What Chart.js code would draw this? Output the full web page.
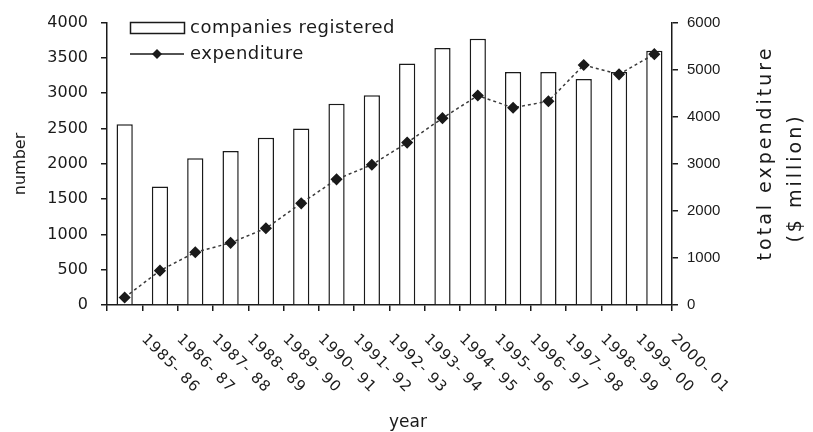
<!DOCTYPE html>
<html>
<head>
<meta charset="utf-8">
<script src="https://cdn.jsdelivr.net/npm/chart.js@4.4.0/dist/chart.umd.min.js"></script>
<style>
html, body { margin: 0; padding: 0; background: #fff; }
#wrap { width: 813px; height: 432px; }
</style>
</head>
<body>
<div id="wrap"><canvas id="chart" width="813" height="432"></canvas></div>
<script>

var years = ["1985- 86", "1986- 87", "1987- 88", "1988- 89", "1989- 90", "1990- 91", "1991- 92", "1992- 93",
	"1993- 94", "1994- 95", "1995- 96", "1996- 97", "1997- 98", "1998- 99", "1999- 00", "2000- 01"];
var companies = [2560, 1680, 2080, 2180, 2370, 2500, 2850, 2970, 3420, 3640, 3770, 3300, 3300, 3200, 3300, 3600];
var expenditure = [160, 730, 1120, 1320, 1630, 2160, 2670, 2980, 3450, 3970, 4450, 4190, 4330, 5100, 4900, 5330];
var leftMax = 4000, leftStep = 500;
var rightMax = 6000, rightStep = 1000;

var INK = "#1a1a1a";

// titles, legend and slanted year labels drawn by hand
var extrasPlugin = {
	id: "extras",
	afterDraw: function (chart) {
		var ctx = chart.ctx;
		var xs = chart.scales.x;
		ctx.save();
		ctx.fillStyle = INK;
		ctx.strokeStyle = INK;

		// year labels going down to the right
		ctx.font = "15px 'DejaVu Sans'";
		ctx.letterSpacing = "1px";
		ctx.textAlign = "left";
		ctx.textBaseline = "middle";
		for (var i = 0; i < years.length; i++) {
			var px = xs.getPixelForValue(i) + 19;
			ctx.save();
			ctx.translate(px, 337);
			ctx.rotate(Math.PI / 4);
			ctx.fillText(years[i], 0, 0);
			ctx.restore();
		}
		ctx.letterSpacing = "0px";

		// axis titles
		ctx.textAlign = "center";
		ctx.font = "17px 'DejaVu Sans'";
		ctx.fillText("year", 408, 423);

		ctx.font = "16px 'DejaVu Sans'";
		ctx.save();
		ctx.translate(21, 164);
		ctx.rotate(-Math.PI / 2);
		ctx.fillText("number", 0, 0);
		ctx.restore();

		ctx.font = "19px 'DejaVu Sans'";
		ctx.letterSpacing = "3px";
		ctx.save();
		ctx.translate(766, 153);
		ctx.rotate(-Math.PI / 2);
		ctx.fillText("total expenditure", 0, 0);
		ctx.restore();

		ctx.save();
		ctx.translate(796, 178);
		ctx.rotate(-Math.PI / 2);
		ctx.fillText("($ million)", 0, 0);
		ctx.restore();
		ctx.letterSpacing = "0px";

		// legend inside the plot
		ctx.lineWidth = 1.5;
		ctx.fillStyle = "#fff";
		ctx.fillRect(130.5, 22.5, 54, 11);
		ctx.strokeRect(130.5, 22.5, 54, 11);
		ctx.beginPath();
		ctx.moveTo(130, 54);
		ctx.lineTo(184, 54);
		ctx.stroke();
		ctx.fillStyle = INK;
		ctx.beginPath();
		ctx.moveTo(157, 49);
		ctx.lineTo(162, 54);
		ctx.lineTo(157, 59);
		ctx.lineTo(152, 54);
		ctx.closePath();
		ctx.fill();
		ctx.font = "18px 'DejaVu Sans'";
		ctx.letterSpacing = "0.5px";
		ctx.textAlign = "left";
		ctx.fillText("companies registered", 190, 28);
		ctx.fillText("expenditure", 190, 54);

		ctx.restore();
	}
};

function plainTick(value) {
	return String(value);
}

var ctx = document.getElementById("chart").getContext("2d");

var myChart = new Chart(ctx, {
	type: "bar",
	data: {
		labels: years,
		datasets: [
		{
			type: "line",
			label: "expenditure",
			data: expenditure,
			yAxisID: "y1",
			order: 0,
			borderColor: "#3a3a3a",
			borderWidth: 1.5,
			borderDash: [3, 3],
			pointStyle: "rectRot",
			pointRadius: 5,
			pointBackgroundColor: INK,
			pointBorderColor: INK,
			tension: 0
		},
		{
			label: "companies registered",
			data: companies,
			yAxisID: "y",
			order: 1,
			backgroundColor: "#fff",
			borderColor: INK,
			borderWidth: 1.5,
			barPercentage: 0.5,
			categoryPercentage: 0.92
		}]
	},
	options: {
		responsive: false,
		animation: false,
		layout: { padding: { top: 17, left: 0, right: 0, bottom: 0 } },
		plugins: {
			legend: { display: false },
			tooltip: { enabled: false }
		},
		scales: {
			x: {
				offset: true,
				grid: { offset: true, drawOnChartArea: false, tickLength: 6, color: INK, lineWidth: 1.5 },
				border: { color: INK, width: 1.5 },
				ticks: { callback: function () { return ""; } },
				afterFit: function (scale) { scale.height = 127; }
			},
			y: {
				position: "left",
				min: 0,
				max: leftMax,
				ticks: { stepSize: leftStep, color: INK, padding: 13, callback: plainTick, font: { family: "DejaVu Sans", size: 16 } },
				grid: { drawOnChartArea: false, tickLength: 6, color: INK, lineWidth: 1.5 },
				border: { color: INK, width: 1.5 },
				afterFit: function (scale) { scale.width = 107; }
			},
			y1: {
				position: "right",
				min: 0,
				max: rightMax,
				ticks: { stepSize: rightStep, color: INK, padding: 9, callback: plainTick, font: { family: "Liberation Sans", size: 15 } },
				grid: { drawOnChartArea: false, tickLength: 6, color: INK, lineWidth: 1.5 },
				border: { color: INK, width: 1.5 },
				afterFit: function (scale) { scale.width = 141; }
			}
		}
	},
	plugins: [extrasPlugin]
});
</script>
</body>
</html>
